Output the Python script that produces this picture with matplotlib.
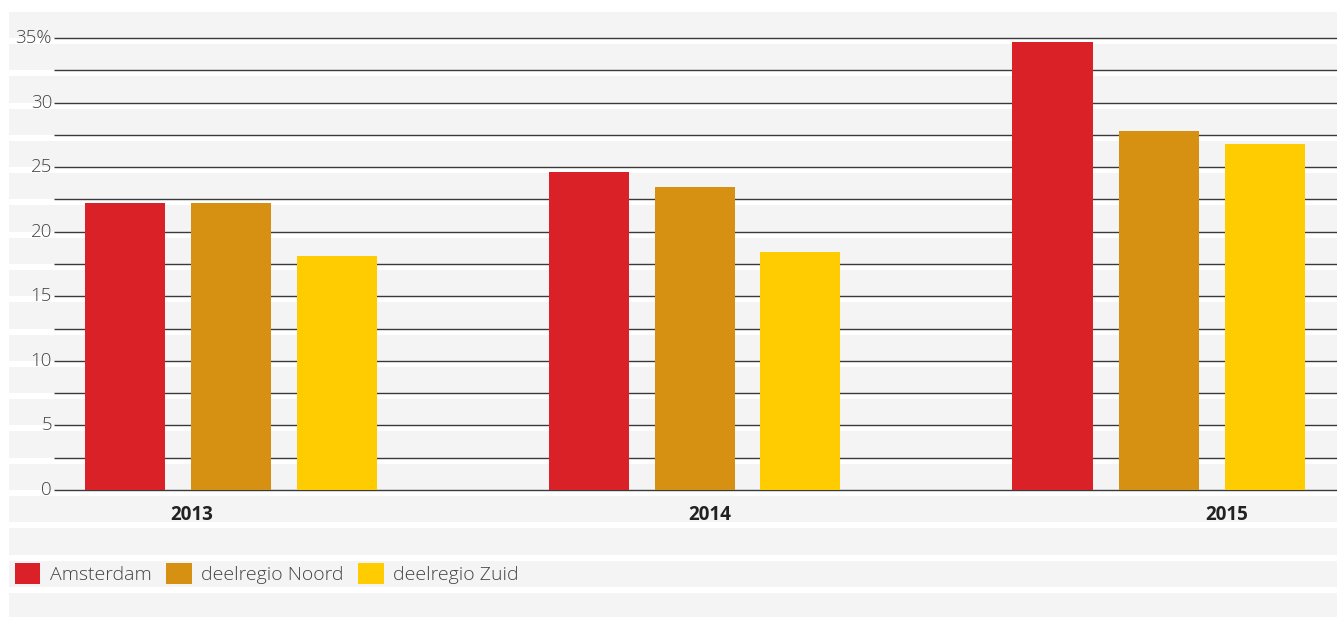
import numpy as np
import matplotlib
matplotlib.use('Agg')
import matplotlib.pyplot as plt
from matplotlib.patches import Patch

plt.rcParams['font.family'] = ['Open Sans', 'DejaVu Sans']

years = ['2013', '2014', '2015']
series = ['Amsterdam', 'deelregio Noord', 'deelregio Zuid']
amsterdam = [22.2, 24.6, 34.7]
noord = [22.2, 23.5, 27.8]
zuid = [18.1, 18.4, 26.8]
yticks = [0, 5, 10, 15, 20, 25, 30, 35]
ytick_labels = ['0', '5', '10', '15', '20', '25', '30', '35%']

colors = ['#D92127', '#D69012', '#FECC00']
band_color = '#F4F4F4'
text_color = '#444444'

# pixel geometry of the reference, used to place the axes
W, H = 1337, 617
px_per_unit = 452 / 35.0
y_zero_px = 490
group_px = 464.0
group0_px = 230.5


def px_to_x(p):
    return (p - group0_px) / group_px


fig = plt.figure(figsize=(W / 100, H / 100), dpi=100)
fig.patch.set_facecolor('white')
ax = fig.add_axes([9 / W, 0, 1 - 9 / W, 1])
ax.set_facecolor('white')
for s in ax.spines.values():
    s.set_visible(False)
ax.set_xticks([])
ax.set_yticks([])

ymax = y_zero_px / px_per_unit
ymin = -(H - y_zero_px) / px_per_unit
ax.set_ylim(ymin, ymax)
ax.set_xlim(px_to_x(9), px_to_x(W))

# striped background
gap = 6 / px_per_unit
for v in np.arange(-12.5, 36, 2.5):
    ax.axhspan(v, v + 2.5 - gap, color=band_color, lw=0, zorder=0)

# gridlines every 2.5
grid_vals = np.arange(0, 35.1, 2.5)
ax.hlines(grid_vals, px_to_x(54), px_to_x(W), color='#3a3a3a', lw=1.0, zorder=1)

for v, lab in zip(yticks, ytick_labels):
    ax.text(px_to_x(52), v, lab, ha='right', va='center', fontsize=13.5,
            color=text_color, fontweight='light')

# bars
x = np.arange(len(years))
step = 106 / group_px
width = 80 / group_px
for j, (vals, c) in enumerate(zip([amsterdam, noord, zuid], colors)):
    ax.bar(x + (j - 1) * step, vals, width=width, color=c, zorder=2, lw=0)

# year labels
label_x = x * (517.5 / group_px) + px_to_x(192)
for lx, yr in zip(label_x, years):
    ax.text(lx, -(515 - y_zero_px) / px_per_unit, yr, ha='center', va='center',
            fontsize=13.5, fontweight='bold', color='#222222')

handles = [Patch(facecolor=c, edgecolor='none') for c in colors]
fig.legend(handles, series, loc='center left',
           bbox_to_anchor=(15 / W, 1 - 573.5 / H), ncol=3, frameon=False,
           borderpad=0, borderaxespad=0,
           handlelength=1.3, handleheight=1.3, handletextpad=0.5,
           columnspacing=0.75, labelcolor=text_color,
           prop={'weight': 'light', 'size': 14})

fig.savefig('out.png', dpi=100)
